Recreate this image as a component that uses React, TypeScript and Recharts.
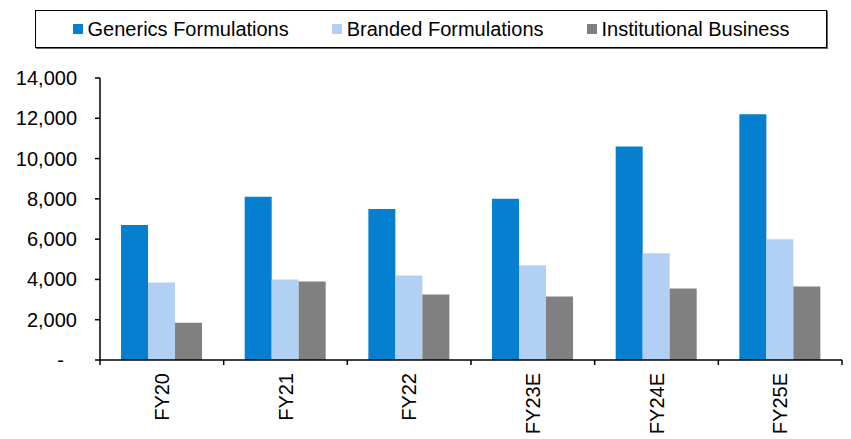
import React from "react";
import { Bar, BarChart, Legend, XAxis, YAxis } from "recharts";

const years = ["FY20", "FY21", "FY22", "FY23E", "FY24E", "FY25E"];
const generics = [6700, 8100, 7500, 8000, 10600, 12200];
const branded = [3850, 4000, 4200, 4700, 5300, 6000];
const institutional = [1850, 3900, 3250, 3150, 3550, 3650];
const yTicks = [0, 2000, 4000, 6000, 8000, 10000, 12000, 14000];

const data = years.map((year, i) => ({
  year,
  generics: generics[i],
  branded: branded[i],
  institutional: institutional[i],
}));

const series = [
  { key: "generics", name: "Generics Formulations", color: "#0580D1" },
  { key: "branded", name: "Branded Formulations", color: "#B1D0F4" },
  { key: "institutional", name: "Institutional Business", color: "#808080" },
];

const FONT = "'Liberation Sans', Arial, sans-serif";
const W = 851;
const H = 439;
const MARGIN = { top: 40, right: 9, bottom: 0, left: 0 };
const Y_WIDTH = 100;
const BAND = (W - Y_WIDTH - MARGIN.right) / years.length;

const YTick = ({ x, y, payload }: any) => {
  const v = payload.value as number;
  const label = v === 0 ? "-" : v.toLocaleString("en-US");
  return (
    <text
      x={v === 0 ? x - 13 : x}
      y={y}
      dy="0.35em"
      textAnchor="end"
      fontFamily={FONT}
      fontSize={20}
      fill="#000"
    >
      {label}
    </text>
  );
};

const XTick = ({ x, y, payload, index }: any) => {
  const left = x - BAND / 2;
  const right = x + BAND / 2;
  return (
    <g>
      <line x1={left} y1={y - 8} x2={left} y2={y - 3} stroke="#000" strokeWidth={1.5} />
      {index === years.length - 1 && (
        <line x1={right} y1={y - 8} x2={right} y2={y - 3} stroke="#000" strokeWidth={1.5} />
      )}
      <text
        transform={`translate(${x},${y + 5}) rotate(-90)`}
        dy="0.35em"
        textAnchor="end"
        fontFamily={FONT}
        fontSize={20}
        fill="#000"
      >
        {payload.value}
      </text>
    </g>
  );
};

const LegendBox = () => (
  <div
    style={{
      boxSizing: "border-box",
      height: 38,
      border: "1.5px solid #000",
      boxShadow: "1px 1px 0 #666",
      display: "flex",
      alignItems: "center",
      justifyContent: "center",
      gap: 43,
      fontFamily: FONT,
      fontSize: 20,
      color: "#000",
      background: "#fff",
    }}
  >
    {series.map((s) => (
      <div key={s.key} style={{ display: "flex", alignItems: "center", gap: 5 }}>
        <span style={{ width: 10, height: 10, background: s.color, display: "inline-block" }} />
        <span>{s.name}</span>
      </div>
    ))}
  </div>
);

export default function App() {
  return (
    <div style={{ position: "absolute", left: 0, top: 0, background: "#fff" }}>
      <BarChart width={W} height={H} data={data} margin={MARGIN} barCategoryGap="17%" barGap={0}>
        <Legend
          verticalAlign="top"
          content={<LegendBox />}
          wrapperStyle={{ left: 35, top: 10, width: 792 }}
        />
        <XAxis
          dataKey="year"
          height={79}
          axisLine={{ stroke: "#000", strokeWidth: 1.5 }}
          tickLine={false}
          tick={<XTick />}
          interval={0}
        />
        <YAxis
          width={Y_WIDTH}
          domain={[0, 14000]}
          ticks={yTicks}
          interval={0}
          tickSize={5}
          tickMargin={18}
          axisLine={{ stroke: "#000", strokeWidth: 1.5 }}
          tickLine={{ stroke: "#000", strokeWidth: 1.5 }}
          tick={<YTick />}
        />
        {series.map((s) => (
          <Bar key={s.key} dataKey={s.key} name={s.name} fill={s.color} isAnimationActive={false} />
        ))}
      </BarChart>
    </div>
  );
}
